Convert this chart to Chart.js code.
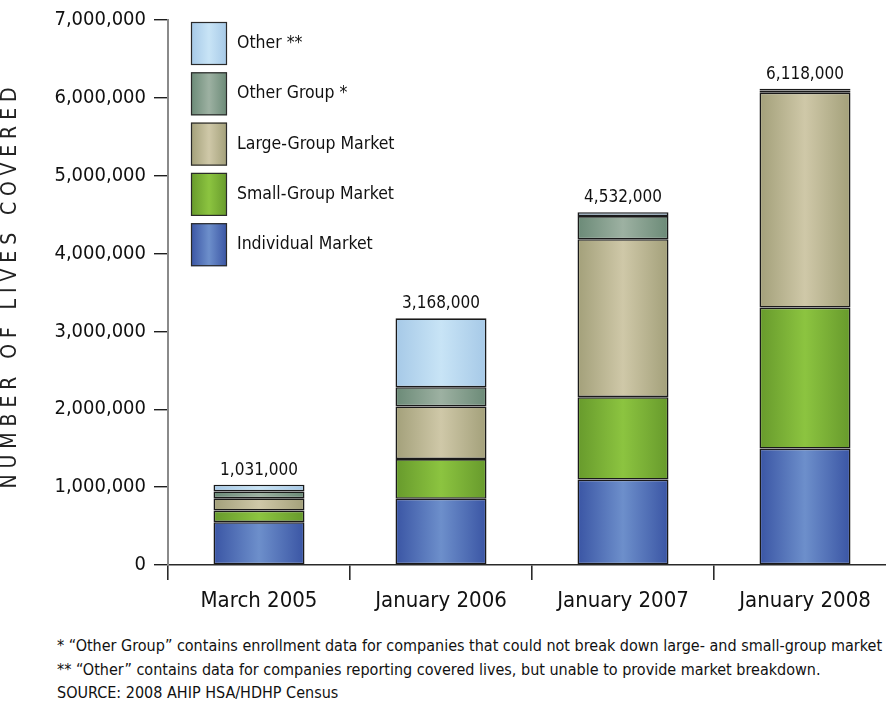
<!DOCTYPE html>
<html>
<head>
<meta charset="utf-8">
<script src="https://cdn.jsdelivr.net/npm/chart.js@4.4.1/dist/chart.umd.min.js"></script>
<style>
  html, body { margin: 0; padding: 0; background: #ffffff; overflow: hidden; }
  #wrap { position: relative; width: 886px; height: 704px; overflow: hidden; }
  #chart-box { position: absolute; left: 0; top: 0; width: 904px; height: 622px; }
  .notes {
    position: absolute; left: 57px; top: 634px; white-space: nowrap;
    font-family: "Liberation Sans Narrow", "DejaVu Sans Condensed", "Roboto", sans-serif;
    font-size: 16px; line-height: 23.5px; color: #111;
  }
</style>
</head>
<body>
<div id="wrap">
  <div id="chart-box"><canvas id="c"></canvas></div>
  <div class="notes">
    <div>* “Other Group” contains enrollment data for companies that could not break down large- and small-group market enrollment.</div>
    <div>** “Other” contains data for companies reporting covered lives, but unable to provide market breakdown.</div>
    <div>SOURCE: 2008 AHIP HSA/HDHP Census</div>
  </div>
</div>
<script>
// Covered lives by market segment, HSA/HDHP enrollment
const categories = ['March 2005', 'January 2006', 'January 2007', 'January 2008'];
const individualMarket = [550000, 851000, 1097000, 1495000];
const smallGroupMarket = [149000, 510000, 1059000, 1811000];
const largeGroupMarket = [157000, 676000, 2028000, 2760000];
const otherGroup       = [89000, 246000, 297000, 30000];
const otherLives       = [86000, 885000, 51000, 22000];
const yTicks = [0, 1000000, 2000000, 3000000, 4000000, 5000000, 6000000, 7000000];

const FONT = '"Liberation Sans Narrow", "DejaVu Sans Condensed", "Roboto", sans-serif';

// edge / centre colours for the cylinder-like shading of each segment
const shades = {
  individual: ['#3a55a4', '#6d8fcb'],
  small:      ['#679a2c', '#8cc440'],
  large:      ['#a3a07a', '#cfc8a8'],
  otherGroup: ['#6b8a77', '#9db1a2'],
  other:      ['#a6c9e7', '#c8e4f6']
};

function shadedFill(pair) {
  return function (ctx) {
    const chart = ctx.chart;
    const area = chart.chartArea;
    if (!area || ctx.dataIndex === undefined) return pair[0];
    const xs = chart.scales.x;
    const cx = xs.getPixelForValue(ctx.dataIndex);
    const half = (area.width / categories.length) * 0.25;
    const g = chart.ctx.createLinearGradient(cx - half, 0, cx + half, 0);
    g.addColorStop(0, pair[0]);
    g.addColorStop(0.5, pair[1]);
    g.addColorStop(1, pair[0]);
    return g;
  };
}

function legendFill(chart, pair, x, w) {
  const g = chart.ctx.createLinearGradient(x, 0, x + w, 0);
  g.addColorStop(0, pair[0]);
  g.addColorStop(0.5, pair[1]);
  g.addColorStop(1, pair[0]);
  return g;
}

function makeSet(label, data, pair) {
  return {
    label: label,
    data: data,
    shade: pair,
    backgroundColor: shadedFill(pair),
    borderColor: '#1a1a1a',
    borderWidth: 1.6,
    borderSkipped: false,
    barPercentage: 0.5,
    categoryPercentage: 1.0
  };
}

const datasets = [
  makeSet('Individual Market', individualMarket, shades.individual),
  makeSet('Small-Group Market', smallGroupMarket, shades.small),
  makeSet('Large-Group Market', largeGroupMarket, shades.large),
  makeSet('Other Group *', otherGroup, shades.otherGroup),
  makeSet('Other **', otherLives, shades.other)
];

// totals above each stack, vertical legend and rotated axis title
const decorations = {
  id: 'decorations',
  afterDatasetsDraw(chart) {
    const ctx = chart.ctx;
    const xs = chart.scales.x, ys = chart.scales.y;
    ctx.save();
    // totals
    ctx.font = '17px ' + FONT;
    ctx.fillStyle = '#111';
    ctx.textAlign = 'center';
    ctx.textBaseline = 'bottom';
    categories.forEach((c, i) => {
      const total = chart.data.datasets.reduce((s, d) => s + d.data[i], 0);
      ctx.fillText(total.toLocaleString('en-US'), xs.getPixelForValue(i), ys.getPixelForValue(total) - 6);
    });

    // legend, top item is the last stacked series
    const bx = 191, bw = 36, bh = 43, step = 50.3;
    let by = 22;
    ctx.textAlign = 'left';
    ctx.textBaseline = 'middle';
    ctx.font = '17.5px ' + FONT;
    for (let k = chart.data.datasets.length - 1; k >= 0; k--) {
      const d = chart.data.datasets[k];
      ctx.fillStyle = legendFill(chart, d.shade, bx, bw);
      ctx.fillRect(bx, by, bw, bh);
      ctx.lineWidth = 1.2;
      ctx.strokeStyle = '#2a2a2a';
      ctx.strokeRect(bx + 0.5, by + 0.5, bw - 1, bh - 1);
      ctx.fillStyle = '#111';
      ctx.fillText(d.label, bx + bw + 10, by + bh / 2);
      by += step;
    }

    // rotated axis title with wide tracking
    ctx.translate(11, 288);
    ctx.rotate(-Math.PI / 2);
    ctx.font = '21px ' + FONT;
    ctx.fillStyle = '#222';
    ctx.textAlign = 'center';
    ctx.textBaseline = 'middle';
    ctx.letterSpacing = '5.9px';
    ctx.fillText('NUMBER OF LIVES COVERED', 3, 0);
    ctx.restore();
  }
};

new Chart(document.getElementById('c'), {
  type: 'bar',
  data: { labels: categories, datasets: datasets },
  options: {
    responsive: true,
    maintainAspectRatio: false,
    animation: false,
    layout: { padding: { top: 15, right: 8, bottom: 0, left: 0 } },
    plugins: { legend: { display: false }, tooltip: { enabled: false } },
    scales: {
      x: {
        stacked: true,
        offset: true,
        grid: {
          offset: true,
          drawOnChartArea: false,
          drawTicks: true,
          tickLength: 15,
          color: '#2a2a2a',
          lineWidth: 1.6
        },
        border: { display: true, color: '#2a2a2a', width: 1.6 },
        ticks: {
          color: '#111',
          padding: 8,
          font: { family: FONT, size: 22 }
        },
        afterFit(scale) { scale.height = 57; }
      },
      y: {
        stacked: true,
        min: 0,
        max: 7000000,
        afterBuildTicks(scale) { scale.ticks = yTicks.map(v => ({ value: v })); },
        grid: {
          drawOnChartArea: false,
          drawTicks: true,
          tickLength: 14,
          color: '#1e1e1e',
          lineWidth: 1.4
        },
        border: { display: true, color: '#8a8a8a', width: 2 },
        ticks: {
          color: '#111',
          padding: 8,
          font: { family: FONT, size: 20 },
          callback: v => Number(v).toLocaleString('en-US')
        },
        afterFit(scale) { scale.width = 168; }
      }
    }
  },
  plugins: [decorations]
});
</script>
</body>
</html>
